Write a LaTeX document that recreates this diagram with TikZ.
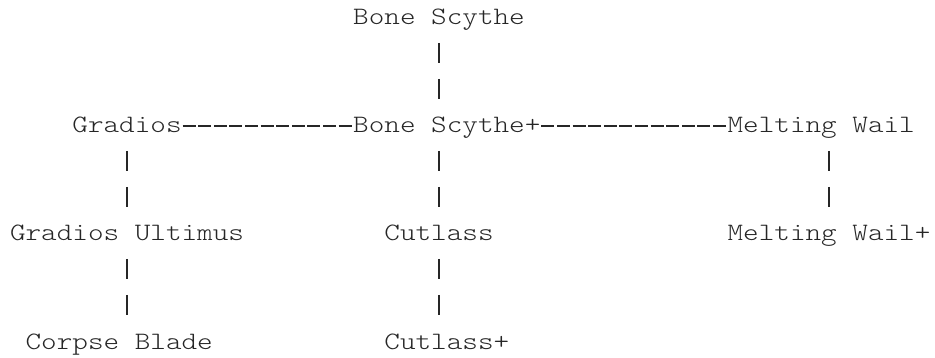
\documentclass[tikz,border=0pt]{standalone}
\usepackage{fontspec}
\newfontfamily\asciimono{lmmonolt10-regular.otf}[FakeStretch=1.1886]
\usetikzlibrary{calc}
\colorlet{ink}{black!85}
\tikzset{
  wname/.style={anchor=base west, inner sep=0pt, outer sep=0pt, font=\asciimono\fontsize{25pt}{30pt}\selectfont, text=ink},
  hlink/.style={draw=ink, line width=1.1pt, dash pattern=on 13pt off 2.6pt},
  vlink/.style={draw=ink, line width=1.1pt, dash pattern=on 20pt off 16pt}
}
\begin{document}
\begin{tikzpicture}[x=1pt,y=1pt]
\useasboundingbox (0,0) rectangle (935,-358);
% names
\node[wname] (bs)   at (353.2,-25)  {Bone Scythe};
\node[wname] (g)    at (72.4,-133)  {Gradios};
\node[wname] (bsp)  at (353.2,-133) {Bone Scythe+};
\node[wname] (mw)   at (727.6,-133) {Melting Wail};
\node[wname] (gu)   at (10,-241)    {Gradios Ultimus};
\node[wname] (cut)  at (384.4,-241) {Cutlass};
\node[wname] (mwp)  at (727.6,-241) {Melting Wail+};
\node[wname] (cb)   at (25.6,-349)  {Corpse Blade};
\node[wname] (cutp) at (384.4,-349) {Cutlass+};
% horizontal connectors (rows of hyphens)
\draw[hlink] ([shift={(1pt,7pt)}]g.base east) -- ([shift={(-1.6pt,7pt)}]bsp.base west);
\draw[hlink] ([shift={(1pt,7pt)}]bsp.base east) -- ([shift={(-1.6pt,7pt)}]mw.base west);
% vertical connectors (pairs of bars)
\draw[vlink] ([shift={(85.8pt,-18pt)}]bs.base west) -- ([shift={(85.8pt,34pt)}]bsp.base west);
\draw[vlink] ([shift={(54.6pt,-18pt)}]g.base west) -- ([shift={(117pt,34pt)}]gu.base west);
\draw[vlink] ([shift={(85.8pt,-18pt)}]bsp.base west) -- ([shift={(54.6pt,34pt)}]cut.base west);
\draw[vlink] ([shift={(101.4pt,-18pt)}]mw.base west) -- ([shift={(101.4pt,34pt)}]mwp.base west);
\draw[vlink] ([shift={(117pt,-18pt)}]gu.base west) -- ([shift={(101.4pt,34pt)}]cb.base west);
\draw[vlink] ([shift={(54.6pt,-18pt)}]cut.base west) -- ([shift={(54.6pt,34pt)}]cutp.base west);
\end{tikzpicture}
\end{document}
